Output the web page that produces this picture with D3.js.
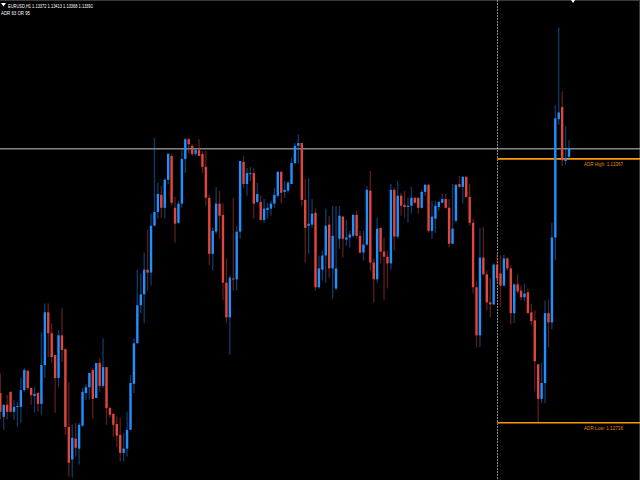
<!DOCTYPE html>
<html><head><meta charset="utf-8">
<script src="https://cdn.jsdelivr.net/npm/d3@7/dist/d3.min.js"></script>
<style>html,body{margin:0;padding:0;background:#000;}svg{display:block;}</style>
</head><body>
<script>
const symbolTitle = "EURUSD,H1";
const headerValues = ["1.13372", "1.13413", "1.13368", "1.13391"];
const infoLine = "ADR 63  OR 95";
const adrHigh = 1.13367;
const adrLow = 1.12736;
const bidPrice = 1.13391;
const separatorIndex = 145;

const open = [1.12807,1.12750,1.12779,1.12810,1.12762,1.12774,1.12774,1.12814,1.12860,1.12819,
1.12800,1.12807,1.12781,1.12874,1.13000,1.12950,1.12898,1.12843,1.12945,1.12912,
1.12726,1.12648,1.12698,1.12674,1.12729,1.12807,1.12821,1.12862,1.12795,1.12879,
1.12824,1.12869,1.12771,1.12757,1.12733,1.12707,1.12664,1.12674,1.12719,1.12829,
1.12926,1.13017,1.13043,1.13102,1.13095,1.13207,1.13240,1.13281,1.13250,1.13317,
1.13374,1.13250,1.13214,1.13260,1.13367,1.13414,1.13398,1.13379,1.13388,1.13379,
1.13348,1.13274,1.13140,1.13193,1.13260,1.13233,1.13071,1.12988,1.13081,1.13079,
1.13193,1.13360,1.13307,1.13331,1.13333,1.13264,1.13264,1.13221,1.13245,1.13248,
1.13260,1.13279,1.13336,1.13288,1.13291,1.13307,1.13357,1.13398,1.13405,1.13269,
1.13207,1.13210,1.13238,1.13060,1.13102,1.13136,1.13210,1.13105,1.13057,1.13176,
1.13229,1.13174,1.13179,1.13183,1.13233,1.13183,1.13143,1.13162,1.13291,1.13119,
1.13079,1.13202,1.13145,1.13133,1.13117,1.13293,1.13181,1.13279,1.13257,1.13252,
1.13255,1.13274,1.13274,1.13250,1.13288,1.13305,1.13195,1.13224,1.13252,1.13262,
1.13271,1.13250,1.13164,1.13219,1.13307,1.13300,1.13324,1.13276,1.13214,1.13060,
1.12945,1.13131,1.13091,1.13024,1.13019,1.13114,1.13093,1.13064,1.13129,1.13105,
1.12998,1.13067,1.13052,1.13036,1.13048,1.13000,1.12981,1.12876,1.12793,1.12831,
1.12998,1.12976,1.13179,1.13462,1.13491,1.13362,1.13372];
const high = [1.12855,1.12779,1.12802,1.12810,1.12791,1.12786,1.12843,1.12867,1.12862,1.12821,
1.12821,1.12810,1.12952,1.13021,1.13021,1.12974,1.12898,1.12957,1.13010,1.12914,
1.12833,1.12731,1.12736,1.12736,1.12819,1.12829,1.12855,1.12867,1.12879,1.12890,
1.12938,1.12869,1.12774,1.12760,1.12750,1.12748,1.12712,1.12762,1.12850,1.12938,
1.13102,1.13093,1.13143,1.13198,1.13236,1.13417,1.13310,1.13302,1.13321,1.13381,
1.13379,1.13276,1.13267,1.13393,1.13417,1.13417,1.13402,1.13393,1.13414,1.13386,
1.13386,1.13281,1.13202,1.13300,1.13291,1.13260,1.13129,1.13088,1.13274,1.13207,
1.13362,1.13374,1.13345,1.13348,1.13345,1.13310,1.13279,1.13271,1.13262,1.13267,
1.13298,1.13338,1.13338,1.13314,1.13314,1.13369,1.13405,1.13426,1.13405,1.13319,
1.13321,1.13271,1.13248,1.13136,1.13148,1.13248,1.13231,1.13255,1.13255,1.13255,
1.13231,1.13221,1.13195,1.13236,1.13243,1.13195,1.13195,1.13302,1.13338,1.13129,
1.13226,1.13202,1.13179,1.13148,1.13307,1.13298,1.13314,1.13286,1.13291,1.13274,
1.13300,1.13276,1.13274,1.13293,1.13307,1.13307,1.13267,1.13267,1.13267,1.13283,
1.13283,1.13271,1.13307,1.13307,1.13326,1.13326,1.13326,1.13307,1.13224,1.13076,
1.13202,1.13205,1.13100,1.13083,1.13117,1.13140,1.13136,1.13138,1.13131,1.13112,
1.13069,1.13091,1.13064,1.13069,1.13057,1.13021,1.13005,1.12876,1.12879,1.13029,
1.13031,1.13214,1.13495,1.13681,1.13529,1.13445,1.13413];
const low = [1.12743,1.12719,1.12743,1.12760,1.12743,1.12726,1.12736,1.12810,1.12814,1.12779,
1.12760,1.12762,1.12755,1.12843,1.12893,1.12879,1.12760,1.12821,1.12881,1.12707,
1.12607,1.12605,1.12655,1.12636,1.12726,1.12791,1.12791,1.12745,1.12795,1.12810,
1.12819,1.12731,1.12748,1.12702,1.12678,1.12643,1.12643,1.12655,1.12719,1.12807,
1.12926,1.12998,1.12974,1.13052,1.13064,1.13207,1.13224,1.13226,1.13224,1.13307,
1.13255,1.13167,1.13212,1.13250,1.13333,1.13379,1.13374,1.13374,1.13374,1.13333,
1.13255,1.13112,1.13100,1.13188,1.13176,1.13029,1.12974,1.12898,1.13052,1.13052,
1.13176,1.13298,1.13279,1.13314,1.13224,1.13260,1.13219,1.13214,1.13224,1.13231,
1.13250,1.13274,1.13260,1.13274,1.13286,1.13307,1.13355,1.13355,1.13255,1.13119,
1.13140,1.13202,1.13052,1.13057,1.13076,1.13071,1.13083,1.13033,1.13052,1.13152,
1.13131,1.13160,1.13155,1.13179,1.13176,1.13140,1.13124,1.13160,1.13100,1.13024,
1.13071,1.13117,1.13029,1.13057,1.13102,1.13148,1.13176,1.13231,1.13226,1.13214,
1.13236,1.13260,1.13236,1.13248,1.13279,1.13190,1.13176,1.13190,1.13243,1.13260,
1.13248,1.13155,1.13164,1.13214,1.13298,1.13260,1.13274,1.13207,1.13045,1.12917,
1.12917,1.13088,1.13005,1.12988,1.13017,1.13069,1.13014,1.13062,1.13100,1.12971,
1.12974,1.13045,1.13029,1.13026,1.12998,1.12969,1.12812,1.12738,1.12783,1.12783,
1.12917,1.12960,1.13124,1.13448,1.13350,1.13352,1.13368];
const close = [1.12762,1.12779,1.12762,1.12762,1.12774,1.12776,1.12814,1.12862,1.12819,1.12802,
1.12805,1.12781,1.12874,1.13000,1.12950,1.12893,1.12843,1.12945,1.12910,1.12726,
1.12640,1.12700,1.12676,1.12731,1.12810,1.12821,1.12855,1.12793,1.12879,1.12824,
1.12869,1.12771,1.12755,1.12731,1.12705,1.12664,1.12674,1.12719,1.12831,1.12926,
1.13017,1.13043,1.13102,1.13095,1.13207,1.13240,1.13283,1.13250,1.13317,1.13379,
1.13262,1.13212,1.13260,1.13367,1.13414,1.13402,1.13379,1.13388,1.13374,1.13348,
1.13274,1.13140,1.13195,1.13260,1.13231,1.13071,1.12988,1.13083,1.13079,1.13193,
1.13362,1.13307,1.13333,1.13333,1.13260,1.13283,1.13221,1.13248,1.13250,1.13260,
1.13281,1.13336,1.13286,1.13293,1.13310,1.13357,1.13398,1.13405,1.13269,1.13202,
1.13212,1.13236,1.13060,1.13105,1.13136,1.13207,1.13105,1.13183,1.13105,1.13231,
1.13176,1.13179,1.13186,1.13233,1.13183,1.13143,1.13162,1.13293,1.13119,1.13079,
1.13200,1.13145,1.13133,1.13117,1.13293,1.13181,1.13279,1.13255,1.13252,1.13255,
1.13274,1.13262,1.13250,1.13288,1.13305,1.13195,1.13229,1.13255,1.13264,1.13271,
1.13250,1.13164,1.13200,1.13305,1.13300,1.13324,1.13276,1.13214,1.13060,1.12945,
1.13131,1.13091,1.13024,1.13019,1.13114,1.13081,1.13064,1.13129,1.13105,1.12998,
1.13067,1.13050,1.13036,1.13045,1.12998,1.12979,1.12883,1.12793,1.12831,1.12998,
1.12976,1.13179,1.13464,1.13478,1.13364,1.13369,1.13391];

const W = 640, H = 480;
const bars = d3.range(open.length);
const data = bars.map(i => ({i, o: open[i], h: high[i], l: low[i], c: close[i]}));

const step = 3.426;
const x = d3.scaleBand().domain(bars).range([-1.41, -1.41 + step * bars.length]).padding(0);
const cx = i => x(i) + x.bandwidth() / 2;
const y = d3.scaleLinear().domain([1.12599, 1.13747]).range([H, 0]);

const BLUE = "#1e90ff", RED = "#e2453b";

const svg = d3.select("body").append("svg").attr("width", W).attr("height", H);
svg.append("rect").attr("width", W).attr("height", H).attr("fill", "#000");

// frame
svg.append("line").attr("x1", 0).attr("x2", W).attr("y1", 0.5).attr("y2", 0.5).attr("stroke", "#3a3a3a");
svg.append("line").attr("x1", W - 0.5).attr("x2", W - 0.5).attr("y1", 0).attr("y2", H).attr("stroke", "#3a3a3a");

// period separator
const sepX = Math.round(cx(separatorIndex)) + 0.5;
svg.append("line").attr("x1", sepX).attr("x2", sepX).attr("y1", 0).attr("y2", H)
  .attr("stroke", "#8a8a8a").attr("stroke-width", 1).attr("stroke-dasharray", "2,1");

// bid line
svg.append("line").attr("x1", 0).attr("x2", W).attr("y1", y(bidPrice)).attr("y2", y(bidPrice))
  .attr("stroke", "#c8c8c8").attr("stroke-width", 1);

// ADR lines
const adr = [{p: adrHigh, t: "ADR High: " + adrHigh.toFixed(5)},
             {p: adrLow, t: "ADR Low: " + adrLow.toFixed(5)}];
svg.selectAll("line.adr").data(adr).join("line").attr("class", "adr")
  .attr("x1", sepX).attr("x2", W).attr("y1", d => y(d.p)).attr("y2", d => y(d.p))
  .attr("stroke", "#ff9a00").attr("stroke-width", 1.6);

// candles
const g = svg.append("g");
g.selectAll("line.wick").data(data).join("line").attr("class", "wick")
  .attr("x1", d => cx(d.i)).attr("x2", d => cx(d.i))
  .attr("y1", d => y(d.h)).attr("y2", d => y(d.l))
  .attr("stroke", d => d.c >= d.o ? BLUE : RED).attr("stroke-opacity", 0.42).attr("stroke-width", 1.3);
const bw = 2.4;
g.selectAll("rect.body").data(data).join("rect").attr("class", "body")
  .attr("x", d => cx(d.i) - bw / 2).attr("width", bw)
  .attr("y", d => y(Math.max(d.o, d.c)))
  .attr("height", d => Math.max(1, Math.abs(y(d.o) - y(d.c))))
  .attr("fill", d => d.c >= d.o ? BLUE : RED);

// ADR labels
svg.selectAll("text.adr").data(adr).join("text").attr("class", "adr")
  .attr("x", 584).attr("y", d => y(d.p) + 7)
  .attr("fill", "#e08a10").attr("font-family", "Liberation Sans, Arial, sans-serif")
  .attr("font-size", 6).attr("textLength", 39).attr("lengthAdjust", "spacingAndGlyphs")
  .text(d => d.t);

// header
svg.append("path").attr("d", "M1,3 L6,3 L3.5,6.5 Z").attr("fill", "#fff");
svg.append("text").attr("x", 8).attr("y", 7.5).attr("fill", "#fff")
  .attr("font-family", "Liberation Sans, Arial, sans-serif").attr("font-size", 6.2)
  .attr("textLength", 85).attr("lengthAdjust", "spacingAndGlyphs")
  .text(symbolTitle + "  " + headerValues.join(" "));
svg.append("text").attr("x", 1).attr("y", 15).attr("fill", "#fff")
  .attr("font-family", "Liberation Sans, Arial, sans-serif").attr("font-size", 6.2)
  .attr("textLength", 29).attr("lengthAdjust", "spacingAndGlyphs")
  .text(infoLine);

// shift marker
svg.append("path").attr("d", "M571,0 L575,0 L573,3 Z").attr("fill", "#fff");
</script>
</body></html>
